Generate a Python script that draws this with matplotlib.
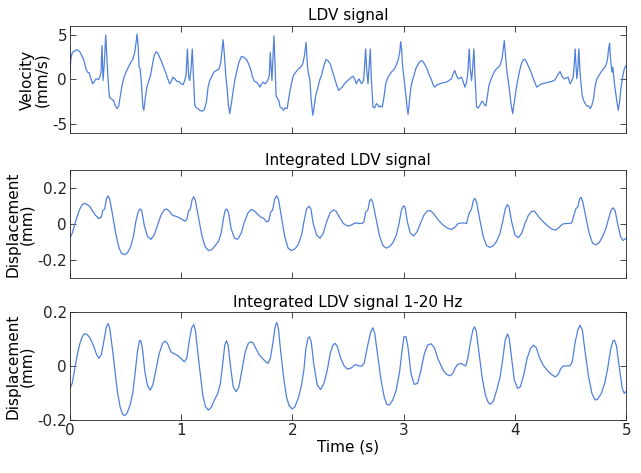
import matplotlib
matplotlib.use("Agg")
import matplotlib.pyplot as plt

plt.rcParams['font.family'] = 'DejaVu Sans'
plt.rcParams['axes.unicode_minus'] = False

# LDV velocity (mm/s)
t_vel = [0.0, 0.009, 0.018, 0.03, 0.048, 0.06, 0.078, 0.093, 0.108, 0.12, 0.132, 0.144,
         0.159, 0.174, 0.189, 0.205, 0.22, 0.235, 0.259, 0.271, 0.28, 0.289, 0.298,
         0.31, 0.322, 0.334, 0.343, 0.355, 0.37, 0.391, 0.409, 0.424, 0.439, 0.454,
         0.469, 0.484, 0.505, 0.526, 0.544, 0.565, 0.583, 0.595, 0.604, 0.613, 0.622,
         0.632, 0.644, 0.656, 0.665, 0.677, 0.692, 0.71, 0.725, 0.74, 0.758, 0.776,
         0.791, 0.806, 0.824, 0.842, 0.86, 0.878, 0.896, 0.911, 0.926, 0.944, 0.962,
         0.98, 0.998, 1.017, 1.032, 1.044, 1.056, 1.068, 1.077, 1.089, 1.10, 1.11,
         1.122, 1.137, 1.152, 1.167, 1.19, 1.209, 1.227, 1.242, 1.257, 1.272, 1.293,
         1.317, 1.341, 1.356, 1.368, 1.377, 1.389, 1.401, 1.413, 1.425, 1.437, 1.449,
         1.462, 1.479, 1.498, 1.519, 1.543, 1.564, 1.588, 1.606, 1.624, 1.642, 1.66,
         1.678, 1.696, 1.708, 1.723, 1.738, 1.753, 1.768, 1.783, 1.792, 1.801, 1.81,
         1.816, 1.825, 1.834, 1.844, 1.853, 1.865, 1.877, 1.889, 1.904, 1.919, 1.934,
         1.953, 1.964, 1.979, 1.994, 2.009, 2.03, 2.054, 2.075, 2.093, 2.108, 2.123,
         2.135, 2.144, 2.156, 2.168, 2.183, 2.195, 2.21, 2.226, 2.244, 2.265, 2.283,
         2.301, 2.319, 2.34, 2.358, 2.376, 2.394, 2.415, 2.447, 2.468, 2.489, 2.514,
         2.532, 2.544, 2.559, 2.574, 2.589, 2.598, 2.613, 2.622, 2.64, 2.649, 2.658,
         2.667, 2.679, 2.688, 2.70, 2.709, 2.724, 2.739, 2.754, 2.766, 2.778, 2.793,
         2.808, 2.823, 2.838, 2.853, 2.868, 2.889, 2.904, 2.925, 2.949, 2.964, 2.973,
         2.982, 2.991, 2.997, 3.006, 3.018, 3.03, 3.039, 3.051, 3.063, 3.078, 3.093,
         3.108, 3.126, 3.144, 3.159, 3.174, 3.192, 3.21, 3.228, 3.246, 3.264, 3.279,
         3.30, 3.324, 3.354, 3.384, 3.408, 3.429, 3.444, 3.459, 3.474, 3.489, 3.505,
         3.52, 3.535, 3.55, 3.565, 3.574, 3.589, 3.598, 3.61, 3.619, 3.631, 3.64,
         3.655, 3.67, 3.685, 3.697, 3.709, 3.724, 3.739, 3.751, 3.766, 3.781, 3.799,
         3.82, 3.841, 3.865, 3.883, 3.895, 3.904, 3.913, 3.925, 3.937, 3.949, 3.964,
         3.979, 3.994, 4.009, 4.024, 4.039, 4.057, 4.075, 4.093, 4.111, 4.129, 4.15,
         4.171, 4.195, 4.216, 4.24, 4.27, 4.30, 4.33, 4.36, 4.381, 4.405, 4.423, 4.441,
         4.459, 4.477, 4.495, 4.511, 4.523, 4.532, 4.541, 4.55, 4.556, 4.565, 4.574,
         4.583, 4.592, 4.604, 4.616, 4.631, 4.646, 4.661, 4.676, 4.691, 4.706, 4.721,
         4.736, 4.754, 4.772, 4.796, 4.817, 4.832, 4.841, 4.85, 4.859, 4.871, 4.88,
         4.892, 4.904, 4.916, 4.928, 4.94, 4.952, 4.967, 4.982, 4.997]
velocity = [0.82, 2.3, 2.86, 3.12, 3.23, 3.35, 3.23, 3.05, 2.6, 2.38, 1.86, 1.19,
            0.82, 0.74, 0.07, -0.48, -0.22, 0.07, 0.0, 0.37, 0.82, 3.8, -0.11,
            1.93, 5.0, 2.3, 0.07, -1.97, -2.16, -2.34, -2.97, -3.27, -2.97, -1.78,
            -0.67, 0.15, 0.82, 1.38, 1.86, 2.23, 3.05, 4.16, 5.09, 3.8, 1.38,
            1.19, -0.67, -3.09, -3.46, -2.16, -0.86, -0.11, 0.45, 1.56, 2.68, 3.12,
            2.94, 2.49, 2.0, 1.38, 0.82, 0.15, -0.48, -0.22, 0.26, 0.07, -0.22,
            -0.22, -0.48, -0.59, -0.11, 0.45, 3.42, 0.26, -0.11, 1.19, 3.42, 0.45,
            -2.9, -3.2, -3.27, -3.46, -3.57, -3.35, -2.53, -0.86, -0.11, 0.26, 0.82,
            1.0, 1.19, 1.93, 3.42, 4.46, 2.68, 0.45, -1.04, -2.9, -3.83, -2.9,
            -1.78, -0.3, 0.82, 1.93, 2.6, 2.49, 2.23, 1.75, 1.19, 0.26, -0.22,
            -0.3, -0.59, -0.86, -0.48, -0.3, -0.48, -0.3, 0.07, 0.45, 3.05, 1.19,
            -0.11, 2.3, 4.9, 1.56, -1.78, -2.16, -2.34, -3.09, -3.2, -3.46, -3.2,
            -3.27, -2.34, -1.23, -0.3, 0.45, 0.82, 1.19, 1.38, 1.75, 2.68, 4.16,
            1.56, 0.63, 0.07, -2.16, -4.01, -3.09, -1.78, -1.04, -0.11, 0.63, 1.56,
            2.23, 2.12, 1.75, 1.0, 0.26, -0.48, -1.23, -0.86, -0.48, -0.22, 0.07,
            0.26, 0.37, 0.07, -0.48, -0.11, 0.07, -0.3, -0.48, -0.11, 1.56, 3.42,
            1.19, -0.48, 1.19, 3.42, 0.07, -3.09, -3.2, -2.71, -2.83, -3.09, -2.97,
            -3.09, -1.97, -0.48, 0.07, 0.45, 0.82, 1.0, 1.38, 2.12, 3.05, 4.24,
            3.23, 1.38, 0.82, -0.3, -1.6, -3.09, -3.94, -2.53, -1.04, -0.11, 0.45,
            1.19, 1.64, 2.0, 2.12, 2.0, 1.64, 1.19, 0.52, 0.07, -0.59, -0.86,
            -0.59, -0.48, -0.37, -0.3, -0.11, 0.07, 0.63, 1.0, 0.45, 0.07, 0.15,
            0.26, -0.3, -0.86, -0.3, 0.45, 3.42, 1.19, -0.11, 1.19, 3.42, 0.45,
            -3.09, -3.2, -2.9, -2.53, -2.45, -2.83, -2.97, -1.97, -0.67, -0.11, 0.45,
            1.0, 1.26, 1.56, 2.3, 3.42, 4.35, 3.05, 1.19, 0.07, -1.04, -2.71,
            -3.83, -2.53, -1.23, -0.11, 0.82, 1.75, 2.23, 2.23, 1.75, 1.26, 0.63,
            -0.11, -0.86, -0.67, -0.48, -0.41, -0.3, -0.22, -0.04, 0.45, 0.89, 0.37, 0.07,
            0.15, 0.26, -0.48, -0.11, 0.26, 1.56, 3.42, 1.19, 0.07, 1.19, 3.42,
            1.19, -0.3, -1.78, -2.34, -2.71, -2.97, -2.97, -3.27, -2.9, -2.16, -0.67,
            0.07, 0.45, 0.82, 1.19, 1.56, 2.3, 3.42, 4.05, 2.3, 0.82, 1.38,
            -0.3, -1.41, -2.53, -3.46, -2.53, -1.04, 0.26, 1.19, 1.56]

# integrated displacement (mm)
t_disp = [0.0, 0.021, 0.042, 0.066, 0.09, 0.111, 0.132, 0.156, 0.18, 0.201, 0.231,
          0.261, 0.283, 0.295, 0.313, 0.328, 0.343, 0.358, 0.382, 0.412, 0.442, 0.466,
          0.493, 0.517, 0.547, 0.571, 0.592, 0.613, 0.631, 0.646, 0.668, 0.698, 0.728,
          0.758, 0.788, 0.818, 0.848, 0.869, 0.893, 0.923, 0.953, 0.983, 1.013, 1.034,
          1.053, 1.068, 1.083, 1.098, 1.113, 1.128, 1.155, 1.185, 1.215, 1.245, 1.275,
          1.305, 1.335, 1.359, 1.38, 1.395, 1.41, 1.425, 1.449, 1.479, 1.509, 1.539,
          1.569, 1.60, 1.63, 1.654, 1.684, 1.714, 1.744, 1.768, 1.787, 1.805, 1.823,
          1.841, 1.859, 1.874, 1.901, 1.931, 1.961, 1.991, 2.021, 2.051, 2.082, 2.106,
          2.127, 2.148, 2.166, 2.187, 2.217, 2.247, 2.277, 2.307, 2.337, 2.368, 2.391,
          2.422, 2.457, 2.498, 2.529, 2.553, 2.574, 2.595, 2.625, 2.643, 2.658, 2.679,
          2.694, 2.709, 2.724, 2.754, 2.784, 2.814, 2.844, 2.874, 2.904, 2.934, 2.958,
          2.979, 2.997, 3.012, 3.033, 3.06, 3.09, 3.12, 3.15, 3.18, 3.21, 3.24, 3.27,
          3.309, 3.354, 3.399, 3.429, 3.459, 3.489, 3.52, 3.544, 3.565, 3.586, 3.61,
          3.625, 3.64, 3.655, 3.685, 3.715, 3.745, 3.775, 3.805, 3.835, 3.865, 3.889,
          3.913, 3.931, 3.946, 3.97, 4.0, 4.03, 4.06, 4.09, 4.12, 4.15, 4.174, 4.204,
          4.24, 4.285, 4.33, 4.366, 4.396, 4.426, 4.456, 4.486, 4.51, 4.529, 4.547,
          4.565, 4.58, 4.595, 4.61, 4.637, 4.667, 4.697, 4.727, 4.757, 4.787, 4.817,
          4.841, 4.865, 4.883, 4.901, 4.925, 4.949, 4.97, 5.0]
displacement = [-0.078, -0.051, -0.005, 0.044, 0.085, 0.109, 0.116, 0.109, 0.098, 0.076,
                0.049, 0.031, 0.04, 0.076, 0.084, 0.14, 0.158, 0.14, 0.058, -0.051,
                -0.133, -0.164, -0.169, -0.16, -0.124, -0.069, 0.013, 0.067, 0.085,
                0.076, -0.005, -0.069, -0.084, -0.06, -0.005, 0.049, 0.08, 0.085, 0.073,
                0.049, 0.044, 0.036, 0.025, 0.016, 0.031, 0.076, 0.085, 0.136, 0.153,
                0.131, 0.04, -0.06, -0.124, -0.147, -0.142, -0.12, -0.096, -0.051, 0.031,
                0.076, 0.085, 0.067, -0.024, -0.078, -0.084, -0.051, 0.013, 0.062, 0.082,
                0.076, 0.058, 0.04, 0.031, 0.013, 0.018, 0.067, 0.08, 0.14, 0.158, 0.14,
                0.04, -0.069, -0.133, -0.147, -0.138, -0.115, -0.06, 0.022, 0.085, 0.1,
                0.085, 0.004, -0.06, -0.078, -0.051, 0.013, 0.062, 0.08, 0.073, 0.04,
                0.004, -0.011, -0.005, 0.004, 0.007, 0.004, 0.004, 0.013, 0.067, 0.08,
                0.131, 0.14, 0.116, 0.022, -0.069, -0.12, -0.133, -0.124, -0.102, -0.06,
                0.004, 0.076, 0.102, 0.095, 0.013, -0.051, -0.065, -0.042, 0.004, 0.049,
                0.073, 0.076, 0.058, 0.025, -0.005, -0.024, -0.029, -0.018, 0.004, 0.007,
                0.007, 0.004, 0.058, 0.085, 0.131, 0.144, 0.122, 0.022, -0.069, -0.12,
                -0.129, -0.12, -0.096, -0.051, 0.013, 0.085, 0.109, 0.098, 0.013, -0.06,
                -0.075, -0.051, 0.004, 0.049, 0.071, 0.073, 0.049, 0.022, -0.005, -0.027,
                -0.033, -0.018, 0.0, 0.004, 0.004, 0.007, 0.049, 0.085, 0.098, 0.14,
                0.149, 0.122, 0.04, -0.051, -0.105, -0.115, -0.102, -0.069, -0.024, 0.031,
                0.08, 0.091, 0.073, -0.005, -0.069, -0.091, -0.078]

# band-passed displacement 1-20 Hz (mm)
t_filt = [0.0, 0.021, 0.042, 0.066, 0.09, 0.111, 0.132, 0.156, 0.18, 0.21, 0.24, 0.261,
          0.283, 0.307, 0.328, 0.343, 0.358, 0.382, 0.406, 0.427, 0.451, 0.472, 0.493,
          0.517, 0.541, 0.565, 0.586, 0.607, 0.625, 0.637, 0.652, 0.674, 0.698, 0.722,
          0.746, 0.773, 0.803, 0.833, 0.857, 0.878, 0.908, 0.932, 0.962, 0.998, 1.028,
          1.05, 1.074, 1.095, 1.113, 1.128, 1.149, 1.173, 1.194, 1.218, 1.245, 1.269,
          1.299, 1.329, 1.353, 1.374, 1.392, 1.408, 1.422, 1.444, 1.468, 1.495, 1.519,
          1.546, 1.576, 1.603, 1.624, 1.645, 1.669, 1.70, 1.73, 1.76, 1.781, 1.802,
          1.826, 1.844, 1.859, 1.874, 1.895, 1.922, 1.946, 1.97, 1.998, 2.022, 2.052,
          2.082, 2.103, 2.121, 2.139, 2.154, 2.169, 2.193, 2.223, 2.253, 2.283, 2.313,
          2.343, 2.367, 2.385, 2.404, 2.434, 2.464, 2.494, 2.524, 2.548, 2.569, 2.593,
          2.623, 2.644, 2.674, 2.704, 2.722, 2.74, 2.764, 2.794, 2.824, 2.848, 2.872,
          2.902, 2.933, 2.963, 2.984, 3.002, 3.02, 3.038, 3.065, 3.095, 3.125, 3.155,
          3.186, 3.216, 3.246, 3.276, 3.306, 3.358, 3.388, 3.418, 3.442, 3.464, 3.485,
          3.515, 3.539, 3.558, 3.576, 3.60, 3.621, 3.636, 3.652, 3.676, 3.706, 3.736,
          3.761, 3.782, 3.806, 3.836, 3.867, 3.891, 3.912, 3.933, 3.948, 3.97, 3.994,
          4.024, 4.048, 4.079, 4.109, 4.139, 4.167, 4.191, 4.221, 4.252, 4.288, 4.327,
          4.364, 4.388, 4.412, 4.433, 4.464, 4.494, 4.515, 4.539, 4.564, 4.585, 4.606,
          4.63, 4.661, 4.691, 4.721, 4.745, 4.776, 4.806, 4.833, 4.858, 4.879, 4.894,
          4.912, 4.939, 4.964, 4.982, 5.0]
filtered = [-0.083, -0.064, -0.015, 0.041, 0.084, 0.109, 0.12, 0.117, 0.105, 0.078, 0.043,
            0.029, 0.043, 0.096, 0.146, 0.158, 0.14, 0.066, -0.021, -0.095, -0.15, -0.178,
            -0.184, -0.172, -0.144, -0.101, -0.027, 0.053, 0.093, 0.095, 0.066, -0.021,
            -0.073, -0.089, -0.07, -0.015, 0.047, 0.084, 0.093, 0.084, 0.053, 0.047,
            0.041, 0.029, 0.016, 0.029, 0.096, 0.142, 0.154, 0.133, 0.053, -0.033,
            -0.107, -0.15, -0.163, -0.154, -0.126, -0.101, -0.064, 0.01, 0.078, 0.094,
            0.078, -0.002, -0.077, -0.095, -0.077, -0.015, 0.053, 0.084, 0.09, 0.087,
            0.068, 0.043, 0.029, 0.016, 0.01, 0.029, 0.09, 0.146, 0.162, 0.14, 0.053,
            -0.046, -0.113, -0.147, -0.159, -0.151, -0.12, -0.07, -0.015, 0.065, 0.103,
            0.109, 0.09, 0.004, -0.07, -0.087, -0.064, -0.015, 0.053, 0.08, 0.084, 0.072,
            0.029, 0.001, -0.011, -0.008, 0.0, 0.006, 0.001, 0.0, 0.01, 0.072, 0.127,
            0.142, 0.121, 0.047, -0.046, -0.113, -0.142, -0.144, -0.126, -0.089, -0.021,
            0.053, 0.109, 0.109, 0.072, -0.027, -0.068, -0.064, -0.015, 0.047, 0.078,
            0.083, 0.068, 0.029, -0.018, -0.031, -0.036, -0.027, -0.006, 0.006, 0.01,
            0.004, 0.001, 0.029, 0.09, 0.133, 0.146, 0.13, 0.053, -0.046, -0.11, -0.136,
            -0.141, -0.13, -0.089, -0.039, 0.029, 0.096, 0.119, 0.103, 0.029, -0.052,
            -0.083, -0.077, -0.033, 0.029, 0.065, 0.078, 0.068, 0.031, 0.004, -0.015,
            -0.031, -0.04, -0.031, -0.009, 0.0, 0.001, 0.001, 0.016, 0.084, 0.133, 0.152,
            0.133, 0.053, -0.039, -0.101, -0.126, -0.122, -0.101, -0.064, -0.009, 0.059,
            0.093, 0.096, 0.075, -0.009, -0.083, -0.101, -0.093]

line_color = '#5080dc'

fig = plt.figure(figsize=(6.41, 4.73), dpi=100)
ax1 = fig.add_axes([0.109, 0.719, 0.868, 0.226])
ax2 = fig.add_axes([0.109, 0.412, 0.868, 0.228])
ax3 = fig.add_axes([0.109, 0.112, 0.868, 0.228])

ax1.plot(t_vel, velocity, color=line_color, lw=0.9)
ax2.plot(t_disp, displacement, color=line_color, lw=0.9)
ax3.plot(t_filt, filtered, color=line_color, lw=0.9)

ax1.set_ylim(-6, 6)
ax1.set_yticks([-5, 0, 5])
ax2.set_ylim(-0.3, 0.3)
ax2.set_yticks([-0.2, 0, 0.2])
ax2.set_yticklabels(['-0.2', '0', '0.2'])
ax3.set_ylim(-0.2, 0.2)
ax3.set_yticks([-0.2, 0, 0.2])
ax3.set_yticklabels(['-0.2', '0', '0.2'])

ax1.set_title('LDV signal', fontsize=11, pad=4)
ax2.set_title('Integrated LDV signal', fontsize=11, pad=4)
ax3.set_title('Integrated LDV signal 1-20 Hz', fontsize=11, pad=4)

ax1.set_ylabel('Velocity\n(mm/s)', fontsize=11, linespacing=0.95, labelpad=2)
ax2.set_ylabel('Displacement\n(mm)', fontsize=11, linespacing=0.95, labelpad=2)
ax3.set_ylabel('Displacement\n(mm)', fontsize=11, linespacing=0.95, labelpad=2)
ax3.set_xlabel('Time (s)', fontsize=11, labelpad=1)

for ax in (ax1, ax2, ax3):
    ax.set_xlim(0, 5)
    ax.set_xticks([0, 1, 2, 3, 4, 5])
    ax.tick_params(direction='in', top=True, right=True, length=4, width=0.6,
                   labelsize=11, colors='#262626', pad=2)
    for s in ax.spines.values():
        s.set_linewidth(0.6)
        s.set_color('#262626')
ax1.tick_params(labelbottom=False)
ax2.tick_params(labelbottom=False)

fig.savefig('out.png', dpi=100)
